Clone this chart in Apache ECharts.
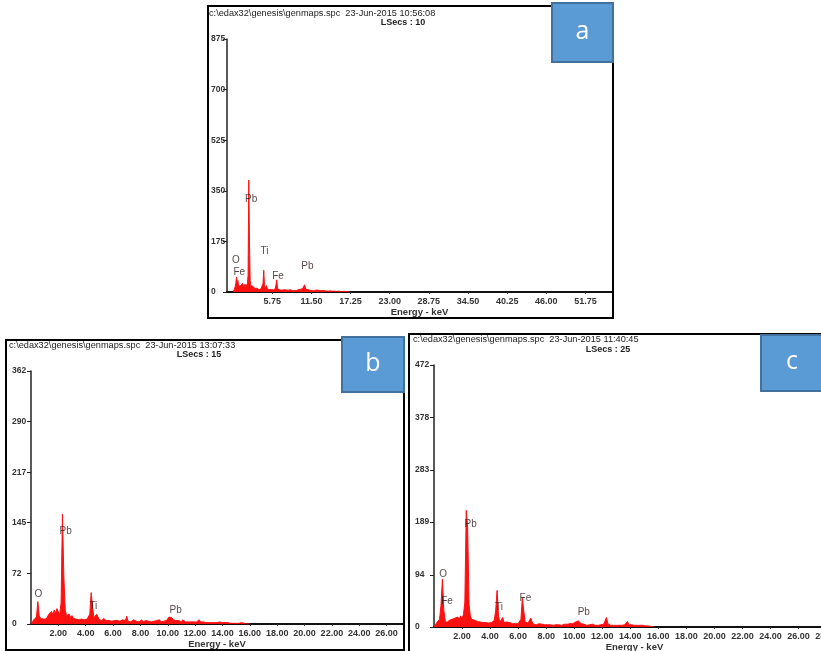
<!DOCTYPE html>
<html>
<head>
<meta charset="utf-8">
<script src="https://cdn.jsdelivr.net/npm/echarts@6/dist/echarts.min.js"></script>
<style>
html,body{margin:0;padding:0;background:#fff;}
#chart{width:821px;height:651px;}
</style>
</head>
<body>
<div id="chart"></div>
<script>
// ---------- DATA ----------
const channelStep = 0.1; // keV per channel

// Panel a counts (0.0 .. 17.2 keV)
const countsA = [
0,5,10,18,30,52,25,40,20,15,
18,22,17,25,30,22,28,20,26,18,
22,30,60,387,175,40,22,28,18,20,
15,18,12,15,10,13,9,12,8,10,
9,11,8,14,30,75,25,12,15,22,
12,9,11,8,10,7,9,8,10,7,
9,8,12,25,42,18,9,8,10,7,
12,8,6,9,7,8,6,9,7,6,
8,6,7,5,8,6,7,5,6,8,
5,7,6,5,7,6,8,6,7,9,
8,10,12,15,18,25,16,9,7,6,
8,5,7,6,5,7,5,6,5,4,
6,5,7,9,8,6,10,7,5,6,
4,5,6,4,5,4,5,3,4,5,
3,4,3,4,3,4,3,2,5,3,
2,3,2,3,2,2,3,2,2,1,
2,1,2,1,1,2,1,1,1,0,
1,0,0
];

// Panel b counts (0.0 .. 16.0 keV)
const countsB = [
0,3,6,8,10,32,12,8,6,7,
9,7,10,14,12,18,13,20,15,22,
17,14,30,157,69,20,12,10,14,9,
12,8,10,7,9,6,8,7,9,6,
8,7,9,14,45,25,9,8,14,10,
6,7,5,8,6,5,7,5,6,4,
6,5,7,5,6,4,5,6,4,5,
11,4,5,3,4,6,8,4,5,3,
4,6,3,4,5,3,4,6,3,5,
4,3,5,4,6,3,5,4,6,5,
7,10,11,9,6,4,5,3,5,4,
3,6,4,3,5,3,4,3,2,3,
4,3,5,6,3,2,3,4,2,3,
2,3,2,3,2,3,2,2,3,2,
2,3,2,1,2,2,1,2,1,2,
1,2,1,1,2,1,1,1,0,1,
0
];

// Panel c counts (0.0 .. 15.7 keV)
const countsC = [
0,4,8,10,14,40,86,30,12,8,
10,12,9,14,11,16,13,18,14,20,
16,22,45,210,180,40,18,14,16,12,
14,10,12,9,11,8,10,8,9,7,
10,8,9,12,30,66,20,9,12,17,
8,7,9,6,8,7,6,8,6,7,
6,8,14,52,30,9,6,7,8,16,
9,5,6,4,5,6,4,5,6,4,
5,4,6,4,5,3,5,4,6,4,
5,3,4,5,4,5,4,6,5,6,
7,9,12,11,8,6,4,5,4,3,
5,4,3,5,4,3,4,3,5,4,
6,5,8,17,6,4,3,4,3,4,
3,4,3,4,3,5,4,6,10,4,
3,4,2,3,2,3,2,3,2,3,
2,2,1,2,1,1,1,0
];

// Tick labels
const xTicksA = [5.75, 11.5, 17.25, 23.0, 28.75, 34.5, 40.25, 46.0, 51.75];
const xTicksB = [2,4,6,8,10,12,14,16,18,20,22,24,26];
const xTicksC = [2,4,6,8,10,12,14,16,18,20,22,24,26,28];
const yTicksA = [0, 175, 350, 525, 700, 875];
const yTicksB = [0, 72, 145, 217, 290, 362];
const yTicksC = [0, 94, 189, 283, 378, 472];

// Peak labels: [name, energy keV, count level]
const peaksA = [['O',0.4,111],['Fe',0.9,68],['Pb',2.65,321],['Ti',4.6,140],['Fe',6.6,56],['Pb',10.9,88]];
const peaksB = [['O',0.54,42],['Pb',2.54,133],['Ti',4.56,25],['Pb',10.58,19]];
const peaksC = [['O',0.65,95],['Fe',0.93,46],['Pb',2.61,185],['Ti',4.64,36],['Fe',6.52,52],['Pb',10.68,27]];

const headerA = ['c:\\edax32\\genesis\\genmaps.spc  23-Jun-2015 10:56:08', 'LSecs : 10'];
const headerB = ['c:\\edax32\\genesis\\genmaps.spc  23-Jun-2015 13:07:33', 'LSecs : 15'];
const headerC = ['c:\\edax32\\genesis\\genmaps.spc  23-Jun-2015 11:40:45', 'LSecs : 25'];

// ---------- BUILD ----------
const FONT = 'Liberation Sans';
const toXY = counts => counts.map((c, i) => [+(i * channelStep).toFixed(2), c]);

function xAxisCfg(gi, min, max, ticks) {
  return {
    type: 'value', gridIndex: gi, min: min, max: max,
    name: 'Energy - keV', nameLocation: 'middle', nameGap: 15,
    nameTextStyle: {fontFamily: FONT, fontSize: 9.5, fontWeight: 'bold', color: '#333'},
    axisLine: {show: true, onZero: false, lineStyle: {color: '#111', width: 2}},
    axisTick: {show: true, customValues: ticks, length: 2, lineStyle: {color: '#333'}},
    axisLabel: {customValues: ticks, formatter: v => Number(v).toFixed(2), margin: 5,
      fontFamily: FONT, fontSize: 9, fontWeight: 'bold', color: '#333'},
    splitLine: {show: false}
  };
}
function yAxisCfg(gi, ticks, margin) {
  return {
    type: 'value', gridIndex: gi, min: ticks[0], max: ticks[ticks.length - 1],
    axisLine: {show: true, onZero: false, lineStyle: {color: '#222', width: 1.5}},
    axisTick: {show: true, customValues: ticks, length: 4, lineStyle: {color: '#222'}},
    axisLabel: {customValues: ticks, align: 'left', margin: margin,
      fontFamily: FONT, fontSize: 8.5, fontWeight: 'bold', color: '#333'},
    splitLine: {show: false}
  };
}
function spectrum(gi, counts) {
  return {
    type: 'line', xAxisIndex: gi, yAxisIndex: gi, data: toXY(counts),
    symbol: 'none', smooth: false, silent: true, animation: false,
    lineStyle: {color: '#ff1010', width: 1},
    areaStyle: {color: '#ff1010', opacity: 1}
  };
}
function peakLabels(gi, peaks) {
  return {
    type: 'scatter', xAxisIndex: gi, yAxisIndex: gi, silent: true, animation: false,
    symbol: 'circle', symbolSize: 1, itemStyle: {color: 'rgba(0,0,0,0)'},
    data: peaks.map(p => ({name: p[0], value: [p[1], p[2]]})),
    label: {show: true, position: 'inside', formatter: '{b}',
      fontFamily: FONT, fontSize: 10, color: '#2a1414'},
    z: 5
  };
}
function headerText(h, x1, y1, xc, y2) {
  return [
    {type: 'text', x: x1, y: y1, style: {text: h[0], fontFamily: FONT, fontSize: 9.2, fill: '#222', textVerticalAlign: 'middle'}},
    {type: 'text', x: xc, y: y2, style: {text: h[1], fontFamily: FONT, fontSize: 9, fontWeight: 'bold', fill: '#222', textAlign: 'center', textVerticalAlign: 'middle'}}
  ];
}
function badge(x, y, w, h, letter) {
  return [
    {type: 'rect', shape: {x: x, y: y, width: w, height: h}, style: {fill: '#5B9BD5', stroke: '#41719C', lineWidth: 2}, z: 100},
    {type: 'text', x: x + w / 2, y: y + h / 2 - 1, style: {text: letter, fontFamily: 'Open Sans', fontSize: 25, fill: '#fff', textAlign: 'center', textVerticalAlign: 'middle'}, z: 101}
  ];
}
function frame(x, y, w, h) {
  return {type: 'rect', shape: {x: x, y: y, width: w, height: h}, style: {fill: 'none', stroke: '#000', lineWidth: 2}, z: 50};
}

const chart = echarts.init(document.getElementById('chart'), null, {renderer: 'canvas'});
chart.setOption({
  animation: false,
  backgroundColor: '#fff',
  grid: [
    {left: 227, top: 39, width: 385, height: 253, outerBoundsMode: 'none', containLabel: false},
    {left: 31, top: 371, width: 372, height: 253, outerBoundsMode: 'none', containLabel: false},
    {left: 434, top: 365, width: 401, height: 262, outerBoundsMode: 'none', containLabel: false}
  ],
  xAxis: [
    xAxisCfg(0, -0.9, 55.65, xTicksA),
    xAxisCfg(1, 0, 27.2, xTicksB),
    xAxisCfg(2, 0, 28.6, xTicksC)
  ],
  yAxis: [
    yAxisCfg(0, yTicksA, 16),
    yAxisCfg(1, yTicksB, 19),
    yAxisCfg(2, yTicksC, 19)
  ],
  series: [
    spectrum(0, countsA), spectrum(1, countsB), spectrum(2, countsC),
    peakLabels(0, peaksA), peakLabels(1, peaksB), peakLabels(2, peaksC)
  ],
  graphic: [].concat(
    [frame(208, 6, 405, 312), frame(6, 340, 398, 310), frame(409, 334, 430, 330)],
    headerText(headerA, 209, 13.5, 403, 22.5),
    headerText(headerB, 9, 345, 199, 354.5),
    headerText(headerC, 413, 339.5, 608, 349.5),
    badge(552, 3, 61, 59, 'a'),
    badge(342, 337, 62, 55, 'b'),
    badge(761, 335, 62, 56, 'c')
  )
});
</script>
</body>
</html>
